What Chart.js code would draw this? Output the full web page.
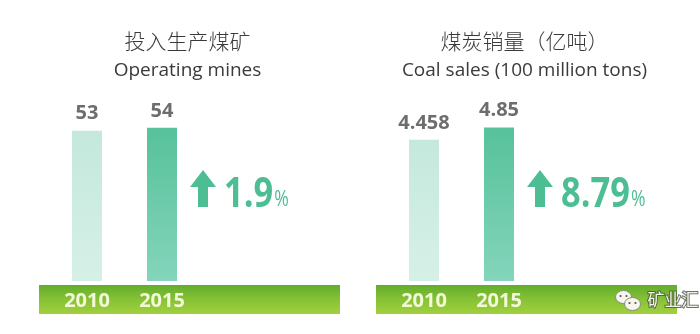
<!DOCTYPE html>
<html>
<head>
<meta charset="utf-8">
<script src="https://cdn.jsdelivr.net/npm/chart.js@4"></script>
<style>
  body { margin: 0; background: #fff; }
  .row { display: flex; width: 700px; height: 334px; }
  canvas { display: block; }
</style>
</head>
<body>
<div class="row">
  <canvas id="minesChart" width="350" height="334"></canvas>
  <canvas id="salesChart" width="350" height="334"></canvas>
</div>
<script>
// data
const years = ["2010", "2015"];
const minesValues = [53, 54];
const minesLabels = ["53", "54"];
const minesChange = "1.9";
const salesValues = [4.458, 4.85];
const salesLabels = ["4.458", "4.85"];
const salesChange = "8.79";
const minesTitle = ["投入生产煤矿", "Operating mines"];
const salesTitle = ["煤炭销量（亿吨）", "Coal sales (100 million tons)"];

const teal = "#4dbe94";

function barFill(ctx) {
    const area = ctx.chart.chartArea;
    const light = ctx.dataIndex === 0;
    if (!area) return light ? "#c6e9dd" : teal;
    const g = ctx.chart.ctx.createLinearGradient(0, area.top, 0, area.bottom);
    if (light) {
        g.addColorStop(0, "#bfe6d8");
        g.addColorStop(1, "#d6f0e8");
    } else {
        g.addColorStop(0, "#4cbd93");
        g.addColorStop(1, "#84d5bb");
    }
    return g;
}

// green strip behind the year labels
const bandPlugin = {
    id: "band",
    beforeDraw(chart) {
        const { ctx, chartArea } = chart;
        const top = chartArea.bottom + 4;
        const g = ctx.createLinearGradient(0, top, 0, top + 29);
        g.addColorStop(0, "#62ad2b");
        g.addColorStop(0.5, "#86c236");
        g.addColorStop(1, "#a2d03e");
        ctx.save();
        ctx.fillStyle = g;
        ctx.fillRect(chartArea.left - 10.5, top, 301, 29);
        ctx.restore();
    }
};

// titles, value labels, growth arrow
const decoPlugin = {
    id: "deco",
    afterDatasetsDraw(chart, args, opts) {
        const { ctx, chartArea } = chart;
        const cx = chartArea.left + 138;
        ctx.save();
        ctx.fillStyle = "#3a3a3a";
        ctx.textAlign = "center";
        ctx.textBaseline = "middle";
        ctx.font = "300 21px 'Noto Sans CJK SC'";
        ctx.fillText(opts.title[0], cx, 41);
        ctx.textBaseline = "alphabetic";
        ctx.font = "19px 'Open Sans'";
        ctx.fillText(opts.title[1], cx, 76);

        const bars = chart.getDatasetMeta(0).data;
        ctx.fillStyle = "#6d6d6d";
        ctx.font = "bold 20px 'Open Sans'";
        ctx.textBaseline = "middle";
        bars.forEach((b, i) => ctx.fillText(opts.labels[i], b.x, b.y - 17));

        // arrow
        const ax = bars[1].x + 41;
        ctx.fillStyle = teal;
        ctx.beginPath();
        ctx.moveTo(ax, 170);
        ctx.lineTo(ax + 13, 187);
        ctx.lineTo(ax + 5, 187);
        ctx.lineTo(ax + 5, 207);
        ctx.lineTo(ax - 5, 207);
        ctx.lineTo(ax - 5, 187);
        ctx.lineTo(ax - 13, 187);
        ctx.closePath();
        ctx.fill();

        ctx.textAlign = "left";
        ctx.textBaseline = "alphabetic";
        ctx.font = "bold 41px 'Open Sans'";
        const w = ctx.measureText(opts.change).width * 0.84;
        ctx.fillText(opts.change, ax + 21, 207, w);
        ctx.font = "22px 'Open Sans'";
        const pw = ctx.measureText("%").width * 0.8;
        ctx.fillText("%", ax + 22 + w, 206, pw);

        if (opts.mark) {
            const y = chartArea.bottom + 19;
            const x0 = chartArea.left + 237;
            ctx.lineWidth = 1;
            ctx.strokeStyle = "#8a8a7a";
            ctx.fillStyle = "#f6f6ee";
            ctx.beginPath(); ctx.ellipse(x0, y - 3, 8, 6.5, 0, 0, Math.PI * 2); ctx.fill(); ctx.stroke();
            ctx.beginPath(); ctx.ellipse(x0 + 9, y + 4, 8, 6.5, 0, 0, Math.PI * 2); ctx.fill(); ctx.stroke();
            ctx.fillStyle = "#555";
            [[x0 - 3, y - 4], [x0 + 3, y - 4], [x0 + 6, y + 3], [x0 + 12, y + 3]].forEach(p => {
                ctx.beginPath(); ctx.arc(p[0], p[1], 1.1, 0, Math.PI * 2); ctx.fill();
            });
            ctx.font = "17px 'Noto Sans CJK SC'";
            ctx.textBaseline = "middle";
            ctx.lineWidth = 2;
            ctx.strokeStyle = "rgba(70,80,60,0.8)";
            ctx.strokeText(opts.mark, x0 + 24, y);
            ctx.fillStyle = "#f4f4ee";
            ctx.fillText(opts.mark, x0 + 24, y);
        }
        ctx.restore();
    }
};

function makeChart(id, values, yMax, padLeft, deco) {
    return new Chart(document.getElementById(id), {
        type: "bar",
        data: {
            labels: years,
            datasets: [{
                data: values,
                backgroundColor: barFill,
                barPercentage: 0.4,
                categoryPercentage: 1
            }]
        },
        options: {
            responsive: false,
            animation: false,
            devicePixelRatio: 1,
            layout: { padding: { left: padLeft, right: 350 - padLeft - 150, top: 91, bottom: 13 } },
            plugins: {
                legend: { display: false },
                tooltip: { enabled: false },
                deco: deco
            },
            scales: {
                x: {
                    grid: { display: false, drawTicks: false },
                    border: { display: false },
                    ticks: {
                        color: "#f3f8d8",
                        padding: 8,
                        font: { family: "'Open Sans'", size: 20, weight: "bold" }
                    }
                },
                y: { display: false, min: 0, max: yMax }
            }
        },
        plugins: [bandPlugin, decoPlugin]
    });
}

makeChart("minesChart", minesValues, 67, 49.5,
    { title: minesTitle, labels: minesLabels, change: minesChange });
makeChart("salesChart", salesValues, 6, 36.5,
    { title: salesTitle, labels: salesLabels, change: salesChange, mark: "矿业汇" });
</script>
</body>
</html>
